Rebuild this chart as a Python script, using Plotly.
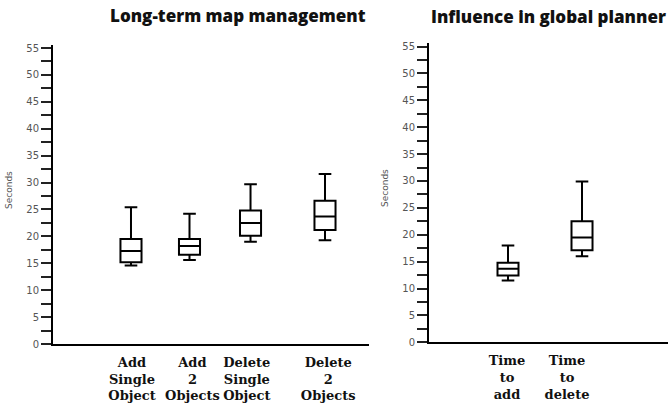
import plotly.graph_objects as go

# ---- data ----
left_categories = ["Add<br>Single<br>Object", "Add<br>2<br>Objects", "Delete<br>Single<br>Object", "Delete<br>2<br>Objects"]
left_lower = [14.6, 15.6, 19.0, 19.3]
left_q1 = [15.2, 16.6, 20.1, 21.2]
left_median = [17.3, 18.2, 22.5, 23.7]
left_q3 = [19.5, 19.5, 24.8, 26.6]
left_upper = [25.4, 24.2, 29.7, 31.6]

right_categories = ["Time<br>to<br>add", "Time<br>to<br>delete"]
right_lower = [11.5, 16.0]
right_q1 = [12.4, 17.1]
right_median = [13.7, 19.5]
right_q3 = [14.8, 22.5]
right_upper = [18.0, 29.9]

y_tick_values = [i * 2.5 for i in range(23)]
y_tick_labels = [str(int(v)) if v % 5 == 0 else "" for v in y_tick_values]

# ---- layout constants ----
left_box_pos = [1, 2, 3.043, 4.316]
left_label_pos = [1.017, 2.05, 2.98, 4.37]
right_box_pos = [1, 2]
right_label_pos = [0.986, 1.797]

fig = go.Figure()
fig.add_trace(go.Box(
    x=left_box_pos, q1=left_q1, median=left_median, q3=left_q3,
    lowerfence=left_lower, upperfence=left_upper,
    width=0.36, whiskerwidth=0.6, boxpoints=False,
    line=dict(color="black", width=2), fillcolor="white",
    xaxis="x", yaxis="y", showlegend=False, hoverinfo="skip"))
fig.add_trace(go.Box(
    x=right_box_pos, q1=right_q1, median=right_median, q3=right_q3,
    lowerfence=right_lower, upperfence=right_upper,
    width=0.284, whiskerwidth=0.6, boxpoints=False,
    line=dict(color="black", width=2), fillcolor="white",
    xaxis="x2", yaxis="y2", showlegend=False, hoverinfo="skip"))

W, H = 669, 407
label_font = dict(family="DejaVu Serif", size=13, color="#111", weight="bold")
ytick_font = dict(family="DejaVu Sans", size=10, color="#555")
title_font = dict(family="Open Sans", size=17, color="#111", weight=800)

common_x = dict(showline=True, linecolor="black", linewidth=2, showgrid=False,
                zeroline=False, ticks="", tickfont=label_font, tickmode="array",
                ticklabelstandoff=5)
common_y = dict(showline=True, linecolor="black", linewidth=2, showgrid=False,
                zeroline=False, ticks="outside", ticklen=10, tickwidth=1.5, tickcolor="#222",
                tickmode="array", tickvals=y_tick_values, ticktext=y_tick_labels,
                tickfont=ytick_font)

fig.update_layout(
    width=W, height=H,
    margin=dict(l=0, r=0, t=0, b=0, autoexpand=False),
    paper_bgcolor="white", plot_bgcolor="white",
    xaxis=dict(domain=[53 / W, 369 / W], range=[-0.333, 5.068],
               tickvals=left_label_pos,
               ticktext=["<b>" + c + "</b>" for c in left_categories],
               anchor="y", **common_x),
    yaxis=dict(domain=[(H - 344) / H, (H - 45) / H], range=[0, 55.56],
               anchor="x", **common_y),
    xaxis2=dict(domain=[429 / W, 668 / W], range=[-0.0676, 3.162],
                tickvals=right_label_pos,
                ticktext=["<b>" + c + "</b>" for c in right_categories],
                anchor="y2", **common_x),
    yaxis2=dict(domain=[(H - 342.3) / H, (H - 43.3) / H], range=[0, 55.6],
                anchor="x2", **common_y),
    annotations=[
        dict(text="Long-term map management", x=238 / W, y=1 - 16 / H,
             xanchor="center", yanchor="middle",
             xref="paper", yref="paper", showarrow=False, font=title_font),
        dict(text="Influence in global planner", x=548 / W, y=1 - 17 / H,
             xanchor="center", yanchor="middle",
             xref="paper", yref="paper", showarrow=False, font=title_font),
        dict(text="Seconds", x=9 / W, y=1 - 190 / H, xref="paper", yref="paper",
             xanchor="center", yanchor="middle",
             showarrow=False, textangle=-90,
             font=dict(family="DejaVu Sans", size=9, color="#555")),
        dict(text="Seconds", x=385 / W, y=1 - 188 / H, xref="paper", yref="paper",
             xanchor="center", yanchor="middle",
             showarrow=False, textangle=-90,
             font=dict(family="DejaVu Sans", size=9, color="#555")),
    ],
)

fig.write_html("out.html", config={"displayModeBar": False},
               post_script="document.body.style.margin='0';document.body.style.overflow='hidden';")
